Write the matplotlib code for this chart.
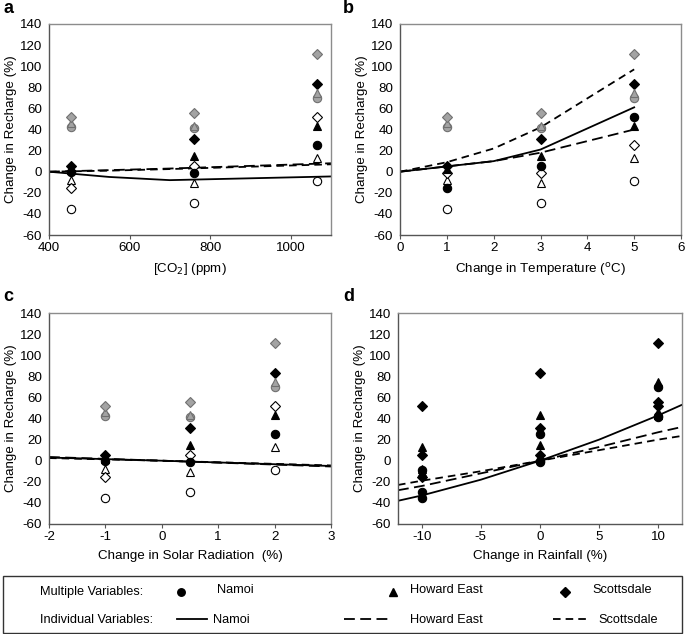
import matplotlib
matplotlib.use("Agg")
import matplotlib.pyplot as plt
from matplotlib.lines import Line2D
from matplotlib.patches import Rectangle

plt.rcParams['font.family'] = ['Liberation Sans', 'DejaVu Sans']
plt.rcParams['axes.unicode_minus'] = False

# ---------------- data ----------------
sites = ["Namoi", "Howard East", "Scottsdale"]

# Panel a: CO2 scenarios
co2_x = [455, 760, 1065]
a_white = {"Namoi": [-35, -30, -9], "Howard East": [-8, -11, 13], "Scottsdale": [-15, 5, 52]}
a_black = {"Namoi": [0, -1, 25], "Howard East": [2, 15, 43], "Scottsdale": [5, 31, 83]}
a_grey = {"Namoi": [42, 41, 70], "Howard East": [46, 43, 75], "Scottsdale": [52, 56, 112]}
a_line_x = [400, 550, 700, 1100]
a_lines = {"Namoi": [0, -5, -8, -4.5], "Howard East": [0, 1.5, 3, 8], "Scottsdale": [0, 1, 2.5, 7]}

# Panel b: temperature scenarios
temp_x = [1, 3, 5]
b_white = {"Namoi": [-35, -30, -9], "Howard East": [-8, -11, 13], "Scottsdale": [-1, -1, 25]}
b_black = {"Namoi": [-15, 5, 52], "Howard East": [3, 15, 43], "Scottsdale": [5, 31, 83]}
b_grey = {"Namoi": [42, 41, 70], "Howard East": [46, 43, 75], "Scottsdale": [52, 56, 112]}
b_line_x = [0, 1, 2, 3, 5]
b_lines = {"Namoi": [0, 5, 10, 21, 61], "Howard East": [0, 5, 10, 18, 40], "Scottsdale": [0, 9, 22, 42, 97]}

# Panel c: solar radiation scenarios
solar_x = [-1, 0.5, 2]
c_white = {"Namoi": [-35, -30, -9], "Howard East": [-8, -11, 13], "Scottsdale": [-15, 5, 52]}
c_black = {"Namoi": [0, -1, 25], "Howard East": [2, 15, 43], "Scottsdale": [5, 31, 83]}
c_grey = {"Namoi": [42, 41, 70], "Howard East": [46, 43, 75], "Scottsdale": [52, 56, 112]}
c_line_x = [-2, 0, 3]
c_lines = {"Namoi": [3, 0, -5], "Howard East": [3.5, 0, -5.5], "Scottsdale": [2.5, 0, -4.5]}

# Panel d: rainfall scenarios (all black)
rain_x = [-10, 0, 10]
d_points = {
    "Namoi": [[-35, -30, -9], [0, -1, 25], [42, 41, 70]],
    "Howard East": [[-8, -11, 13], [2, 15, 43], [46, 43, 75]],
    "Scottsdale": [[-15, 5, 52], [5, 31, 83], [52, 56, 112]],
}
d_line_x = [-12, -10, -5, 0, 5, 10, 12]
d_lines = {"Namoi": [-38, -33, -18, 0, 20, 43, 53],
           "Howard East": [-28, -24, -12, 0, 13, 27, 32],
           "Scottsdale": [-23, -19, -10, 0, 10, 20, 23.5]}

# ---------------- styles ----------------
markers = {"Namoi": "o", "Howard East": "^", "Scottsdale": "D"}
msize = {"Namoi": 6, "Howard East": 6, "Scottsdale": 5.2}
line_style = {"Namoi": dict(linestyle="-"),
              "Howard East": dict(dashes=(6, 3)),
              "Scottsdale": dict(dashes=(4.2, 2.8))}
fills = {"white": ("white", "black"), "black": ("black", "black"), "grey": ("#a3a3a3", "#707070")}
FS = 9.6

fig = plt.figure(figsize=(6.85, 6.34), dpi=100)
W, H = 685, 634


def add_ax(l, r, t, b):
    return fig.add_axes([l / W, 1 - b / H, (r - l) / W, (b - t) / H])


def style_ax(ax, xlim, xticks, xlabel):
    ax.set_xlim(*xlim)
    ax.set_xticks(xticks)
    ax.set_ylim(-60, 140)
    ax.set_yticks(range(-60, 141, 20))
    for s in ax.spines.values():
        s.set_color("#8c8c8c")
        s.set_linewidth(1.0)
    ax.spines["left"].set_color("#555555")
    ax.spines["bottom"].set_color("#555555")
    ax.tick_params(direction="out", length=3, width=0.8, labelsize=FS, color="#555555", pad=2)
    ax.tick_params(axis="y", left=False)
    ax.set_ylabel("Change in Recharge (%)", fontsize=FS, labelpad=2)
    ax.set_xlabel(xlabel, fontsize=FS, labelpad=5)


def draw_scatter(ax, xs, groups):
    for color, data in groups:
        fc, ec = fills[color]
        for s in sites:
            ax.plot(xs, data[s], linestyle="none", marker=markers[s], ms=msize[s],
                    mfc=fc, mec=ec, mew=0.8, zorder=3)


def draw_lines(ax, xs, lines):
    for s in sites:
        ax.plot(xs, lines[s], color="black", lw=1.3, zorder=2, **line_style[s])


axa = add_ax(49, 331, 24, 235)
draw_lines(axa, a_line_x, a_lines)
draw_scatter(axa, co2_x, [("white", a_white), ("black", a_black), ("grey", a_grey)])
style_ax(axa, (400, 1100), [400, 600, 800, 1000], "[CO$_2$] (ppm)")

axb = add_ax(400, 681, 24, 235)
draw_lines(axb, b_line_x, b_lines)
draw_scatter(axb, temp_x, [("white", b_white), ("black", b_black), ("grey", b_grey)])
style_ax(axb, (0, 6), range(0, 7), "Change in Temperature ($^{\\mathrm{o}}$C)")

axc = add_ax(49, 331, 313, 524)
draw_lines(axc, c_line_x, c_lines)
draw_scatter(axc, solar_x, [("white", c_white), ("black", c_black), ("grey", c_grey)])
style_ax(axc, (-2, 3), range(-2, 4), "Change in Solar Radiation  (%)")

axd = add_ax(398, 682, 313, 524)
draw_lines(axd, d_line_x, d_lines)
for s in sites:
    for xv, vals in zip(rain_x, d_points[s]):
        axd.plot([xv] * len(vals), vals, linestyle="none", marker=markers[s], ms=msize[s],
                 mfc="black", mec="black", mew=0.8, zorder=3)
style_ax(axd, (-12, 12), [-10, -5, 0, 5, 10], "Change in Rainfall (%)")

# panel letters
for lab, (px, py) in zip("abcd", [(3, 13), (343, 13), (3, 301), (343, 301)]):
    fig.text(px / W, 1 - py / H, lab, fontsize=13, fontweight="bold", va="baseline", ha="left")

# ---------------- legend box ----------------
fig.patches.append(Rectangle((3 / W, 1 - 633 / H), (682 - 3) / W, (633 - 576) / H,
                             transform=fig.transFigure, fill=False, ec="#333333", lw=1.0))
r1, r2 = 1 - 592 / H, 1 - 620 / H
LFS = 9.2
fig.text(40 / W, r1, "Multiple Variables:", fontsize=LFS, va="center")
fig.text(40 / W, r2, "Individual Variables:", fontsize=LFS, va="center")
sym_x = {"Namoi": 181, "Howard East": 393, "Scottsdale": 565}
txt1_x = {"Namoi": 217, "Howard East": 410, "Scottsdale": 592}
ln_x = {"Namoi": (177, 207), "Howard East": (344, 390), "Scottsdale": (553, 586)}
txt2_x = {"Namoi": 213, "Howard East": 410, "Scottsdale": 598}
for s in sites:
    fig.add_artist(Line2D([sym_x[s] / W], [r1], transform=fig.transFigure, linestyle="none",
                          marker=markers[s], ms=msize[s] * 0.9, mfc="black", mec="black"))
    fig.text(txt1_x[s] / W, r1 + 0.003, s, fontsize=LFS, va="center")
    x0, x1 = ln_x[s]
    fig.add_artist(Line2D([x0 / W, x1 / W], [r2 + 0.002, r2 + 0.002], transform=fig.transFigure,
                          color="black", lw=1.3, **line_style[s]))
    fig.text(txt2_x[s] / W, r2, s, fontsize=LFS, va="center")

fig.savefig("out.png", dpi=100)
